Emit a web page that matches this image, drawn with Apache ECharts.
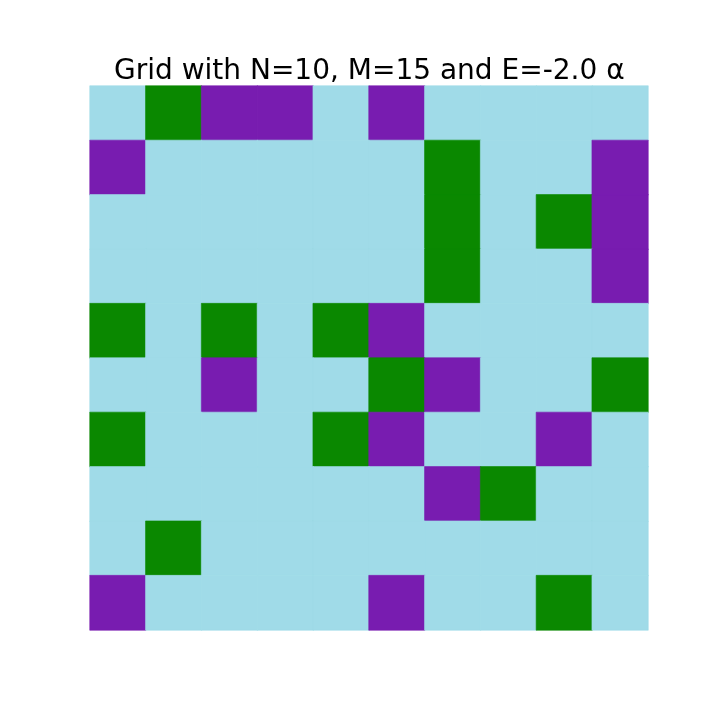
<!DOCTYPE html>
<html><head><meta charset="utf-8">
<script src="https://cdn.jsdelivr.net/npm/echarts@6/dist/echarts.min.js"></script>
<style>html,body{margin:0;padding:0;background:#fff}#c{width:720px;height:720px}</style>
</head><body><div id="c"></div>
<script>
// 0 = empty, 1 = green, 2 = purple ; row 0 is top
const titleText = "Grid with N=10, M=15 and E=-2.0 α";
const cols = ["0","1","2","3","4","5","6","7","8","9"];
const rows = ["0","1","2","3","4","5","6","7","8","9"];
const row0 = [0,1,2,2,0,2,0,0,0,0];
const row1 = [2,0,0,0,0,0,1,0,0,2];
const row2 = [0,0,0,0,0,0,1,0,1,2];
const row3 = [0,0,0,0,0,0,1,0,0,2];
const row4 = [1,0,1,0,1,2,0,0,0,0];
const row5 = [0,0,2,0,0,1,2,0,0,1];
const row6 = [1,0,0,0,1,2,0,0,2,0];
const row7 = [0,0,0,0,0,0,2,1,0,0];
const row8 = [0,1,0,0,0,0,0,0,0,0];
const row9 = [2,0,0,0,0,2,0,0,1,0];
const gridRows = [row0,row1,row2,row3,row4,row5,row6,row7,row8,row9];
const palette = ["#a0dbe8", "#0a8800", "#781cb0"];

const data = [];
gridRows.forEach((r, i) => r.forEach((v, j) => data.push({
  value: [j, i, v],
  itemStyle: {color: palette[v], borderColor: palette[v], borderWidth: 0.6}
})));

const chart = echarts.init(document.getElementById('c'), null, {renderer: 'canvas'});
chart.setOption({
  animation: false,
  title: {text: titleText, left: 109, top: 53,
    textStyle: {fontFamily: 'DejaVu Sans', fontSize: 28, fontWeight: 'normal', color: '#000'}},
  grid: {left: 90, right: 72, top: 86, bottom: 90},
  xAxis: {type: 'category', data: cols, show: false},
  yAxis: {type: 'category', data: rows, inverse: true, show: false},
  series: [{type: 'heatmap', data: data, emphasis: {disabled: true}}]
});
</script></body></html>
